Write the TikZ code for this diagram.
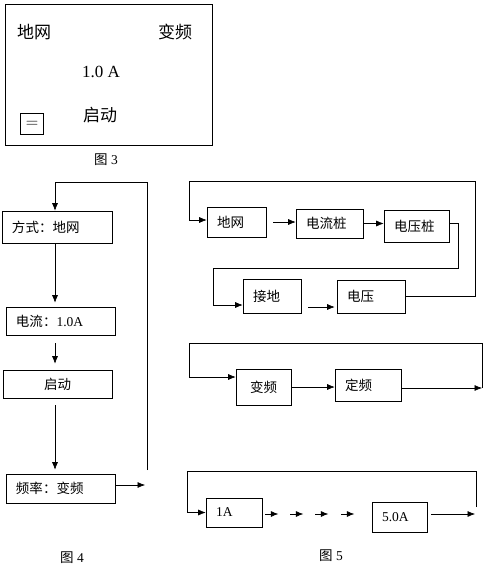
\documentclass[tikz,border=0pt]{standalone}
\usepackage{fontspec}
\setmainfont{Liberation Serif}
\newfontfamily\cjk{Noto Sans CJK SC}
\usetikzlibrary{arrows.meta}
\usetikzlibrary{positioning}

\tikzset{
  ln/.style={line width=0.6pt},
  arr/.style={ln, -{Latex[length=7.5pt,width=6pt]}},
  blk/.style={draw, ln, inner xsep=10pt, inner ysep=0pt, align=left, font=\fontsize{13.5}{16}\selectfont},
  big/.style={font=\fontsize{17}{20}\selectfont},
  bigcn/.style={font=\cjk\fontsize{17}{20}\selectfont},
  figcap/.style={font=\fontsize{13.5}{16}\selectfont},
}

\begin{document}
\begin{tikzpicture}[x=1pt, y=-1pt]
  \useasboundingbox (0,0) rectangle (496,572);

  % Fig 3: panel
  \draw[ln] (5,4) rectangle (212,145);
  \node[bigcn] (grid) at (34,32) {地网};
  \node[bigcn] (vfreq) at (175,32) {变频};
  \node[big] (amp) at (101,72) {1.0 A};
  \node[bigcn] (start) at (100,115) {启动};
  \node[draw, ln, big, inner sep=0pt, minimum width=23, minimum height=21] (key) at (32,124) {$=$};
  \node[figcap] (cap3) at (106,160) {{\cjk 图} 3};

  % Fig 4: menu loop
  \node[blk, text width=90pt, minimum height=32] (mode) at (57,227) {{\cjk 方式：地网}};
  \node[blk, text width=89pt, minimum height=28] (curr) at (60.5,321) {{\cjk 电流：}1.0A};
  \node[blk, text width=89pt, minimum height=28, align=center] (run) at (57.5,384) {{\cjk 启动}};
  \node[blk, text width=89pt, minimum height=29] (rate) at (60.5,488.5) {{\cjk 频率：变频}};
  \coordinate (r4) at (147,470);
  \coordinate (t4) at (55,182);
  \coordinate (o4) at (145,485);
  \draw[arr] (r4) |- (t4) -- (t4 |- mode.north);
  \draw[arr, shorten >=4pt] (mode.south -| t4) -- (curr.north -| t4);
  \draw[arr, shorten <=8pt, shorten >=6pt] (curr.south -| t4) -- (run.north -| t4);
  \draw[arr, shorten <=7pt, shorten >=4pt] (run.south -| t4) -- (rate.north -| t4);
  \draw[arr] (rate.east |- o4) -- (o4);
  \node[figcap] (cap4) at (72,558) {{\cjk 图} 4};

  % Fig 5: mode row
  \node[blk, text width=39pt, minimum height=30] (dw) at (236.5,222) {{\cjk 地网}};
  \node[blk, text width=47pt, minimum height=29] (dlz) at (329.5,223.5) {{\cjk 电流桩}};
  \node[blk, text width=45pt, minimum height=32] (dyz) at (416.5,226) {{\cjk 电压桩}};
  \node[blk, text width=38pt, minimum height=34] (jd) at (272,296) {{\cjk 接地}};
  \node[blk, text width=48pt, minimum height=33] (dy) at (371,296.5) {{\cjk 电压}};
  \coordinate (ra) at (475,181);
  \coordinate (la) at (189,181);
  \coordinate (k1) at (458,268);
  \coordinate (k2) at (213,268);
  \draw[arr] (dy.east) -| (ra) -- (la) |- ([yshift=2pt]dw.west);
  \draw[arr, shorten <=7pt] (dw.east) -- (dw.east -| dlz.west);
  \draw[arr] (dlz.east) -- (dlz.east -| dyz.west);
  \draw[arr] ([yshift=3pt]dyz.east) -| (k1) -- (k2) |- ([yshift=-9pt]jd.west);
  \draw[arr, shorten <=7pt, shorten >=2pt] ([yshift=-11pt]jd.east) -- ([yshift=-11pt]jd.east -| dy.west);

  % Fig 5: frequency row
  \node[blk, text width=35pt, minimum height=36, align=center] (bp) at (263.5,387) {{\cjk 变频}};
  \node[blk, text width=46pt, minimum height=32] (dp) at (368,385) {{\cjk 定频}};
  \coordinate (rb) at (482,343);
  \coordinate (lb) at (189,343);
  \coordinate (eb) at (482,388);
  \draw[arr] (rb) -- (lb) |- ([yshift=10pt]bp.west);
  \draw[arr] (bp.east) -- (bp.east -| dp.west);
  \draw[arr] (dp.east |- eb) -- (eb);
  \draw[ln] (eb) -- (rb);

  % Fig 5: current row
  \node[blk, text width=36pt, minimum height=29] (one) at (234,512.5) {1A};
  \node[blk, text width=35pt, minimum height=30] (five) at (399.5,517) {5.0A};
  \coordinate (rc) at (476,471);
  \coordinate (lc) at (187,471);
  \coordinate (bc) at (476,507);
  \coordinate (ec) at (475,514);
  \draw[arr] (bc) -- (rc) -- (lc) |- (one.west);
  \foreach \dx in {3,28,53,79}
    \draw[arr] ([xshift=\dx pt, yshift=-1.5pt]one.east) -- ++(13,0);
  \draw[arr] ([xshift=4pt]five.east |- ec) -- (ec);
  \node[figcap] (cap5) at (331,556) {{\cjk 图} 5};
\end{tikzpicture}
\end{document}
